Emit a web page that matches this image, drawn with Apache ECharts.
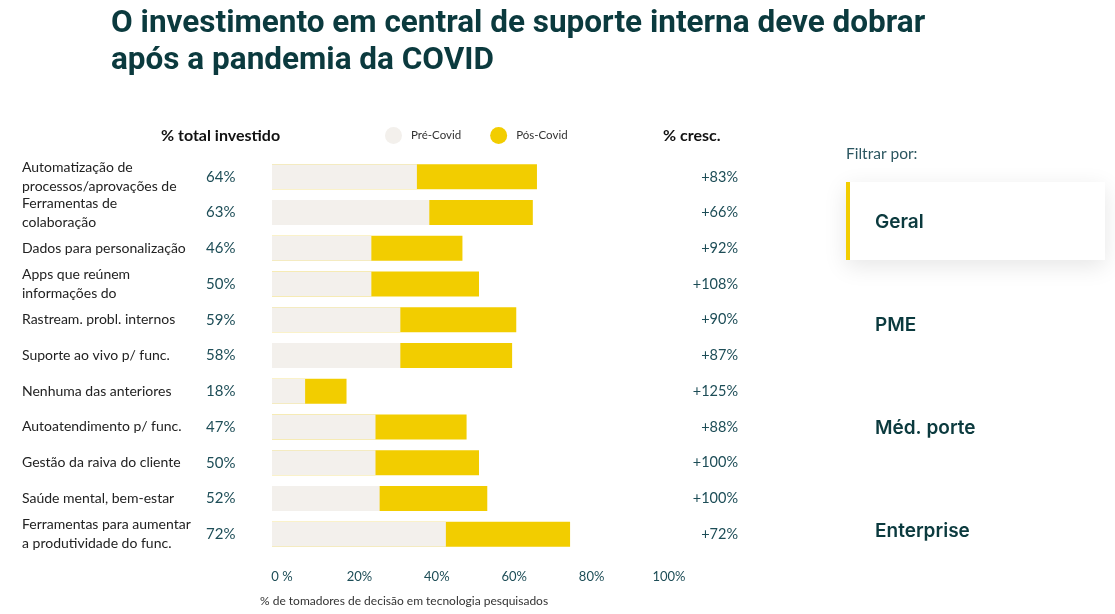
<!DOCTYPE html>
<html>
<head>
<meta charset="utf-8">
<script src="https://cdn.jsdelivr.net/npm/echarts@6/dist/echarts.min.js"></script>
<style>
html,body{margin:0;padding:0;background:#fff;}
#chart{width:1115px;height:614px;}
</style>
</head>
<body>
<div id="chart"></div>
<script>
const categories = [
  'Automatização de\nprocessos/aprovações de',
  'Ferramentas de\ncolaboração',
  'Dados para personalização',
  'Apps que reúnem\ninformações do',
  'Rastream. probl. internos',
  'Suporte ao vivo p/ func.',
  'Nenhuma das anteriores',
  'Autoatendimento p/ func.',
  'Gestão da raiva do cliente',
  'Saúde mental, bem-estar',
  'Ferramentas para aumentar\na produtividade do func.'
];
const preCovid = [35, 38, 24, 24, 31, 31, 8, 25, 25, 26, 42];
const posCovid = [64, 63, 46, 50, 59, 58, 18, 47, 50, 52, 72];
const growth = [83, 66, 92, 108, 90, 87, 125, 88, 100, 100, 72];
const xTickLabels = ['0 %', '20%', '40%', '60%', '80%', '100%'];
const filters = ['Geral', 'PME', 'Méd. porte', 'Enterprise'];

const TEAL = '#0B3A3E';
const VAL = '#1D4D57';
const GRAY = '#F3F0EC';
const YELLOW = '#F2CD00';
const BODY = 'Lato, "Open Sans", sans-serif';

const chart = echarts.init(document.getElementById('chart'), null, {renderer: 'canvas'});

const graphics = [
  {type: 'text', left: 161, top: 128, style: {text: '% total investido', font: 'bold 16px ' + BODY, fill: '#111'}},
  {type: 'text', left: 663, top: 128, style: {text: '% cresc.', font: 'bold 16px ' + BODY, fill: '#111'}},
  {type: 'text', left: 260, top: 595, style: {text: '% de tomadores de decisão em tecnologia pesquisados', font: '12px ' + BODY, fill: '#333'}},
  {type: 'text', left: 846, top: 146, style: {text: 'Filtrar por:', font: '15.5px ' + BODY, fill: '#2B5660'}},
  {type: 'rect', shape: {x: 846, y: 182, width: 259, height: 78}, style: {fill: '#fff', shadowBlur: 22, shadowColor: 'rgba(0,0,0,0.10)', shadowOffsetY: 6}, z: 1},
  {type: 'rect', shape: {x: 846, y: 182, width: 4, height: 78}, style: {fill: YELLOW}, z: 2}
];
filters.forEach((f, i) => {
  graphics.push({type: 'text', x: 875, y: 222 + i * 103, z: 3,
    style: {text: f, font: '600 19px Inter, Roboto, sans-serif', fill: TEAL, verticalAlign: 'middle'}});
});

const option = {
  backgroundColor: '#fff',
  animation: false,
  title: {
    text: 'O investimento em central de suporte interna deve dobrar\napós a pandemia da COVID',
    left: 111, top: 6, padding: 0,
    textStyle: {fontFamily: 'Roboto, sans-serif', fontWeight: 'bold', fontSize: 31.5, lineHeight: 37, color: TEAL}
  },
  legend: {
    data: ['Pré-Covid', 'Pós-Covid'],
    left: 385, top: 127, padding: 0,
    icon: 'circle', itemWidth: 17, itemHeight: 17, itemGap: 29,
    textStyle: {fontFamily: BODY, fontSize: 11.5, color: '#333', padding: [0, 0, 0, 4]}
  },
  grid: [
    {left: 272, top: 159, width: 414, height: 393},
    {left: 282, top: 159, width: 387, height: 393}
  ],
  xAxis: [
    {gridIndex: 0, type: 'value', min: 0, max: 100, show: false},
    {gridIndex: 1, type: 'value', min: 0, max: 100, interval: 20,
      axisLine: {show: false}, axisTick: {show: false}, splitLine: {show: false},
      axisLabel: {margin: 18, fontFamily: BODY, fontSize: 13, color: VAL,
        formatter: v => xTickLabels[Math.round(v / 20)]}}
  ],
  yAxis: [
    {gridIndex: 0, type: 'category', inverse: true, data: categories,
      axisLine: {show: false}, axisTick: {show: false}, splitLine: {show: false},
      axisLabel: {interval: 0, showMinLabel: true, showMaxLabel: true, align: 'left', margin: 250,
        fontFamily: BODY, fontSize: 14, lineHeight: 19, color: '#222'}},
    {gridIndex: 0, type: 'category', inverse: true, position: 'right', data: categories,
      axisLine: {show: false}, axisTick: {show: false}, splitLine: {show: false},
      axisLabel: {interval: 0, align: 'right', margin: 52, fontFamily: BODY, fontSize: 14.5, color: VAL,
        formatter: (v, i) => '+' + growth[i] + '%'}},
    {gridIndex: 1, type: 'category', show: false, data: categories}
  ],
  series: [
    {name: 'Pós-Covid', type: 'bar', xAxisIndex: 0, yAxisIndex: 0, data: posCovid,
      barWidth: 25, barGap: '-100%', itemStyle: {color: YELLOW},
      label: {show: true, position: 'left', distance: 66, align: 'left',
        formatter: '{c}%', fontFamily: BODY, fontSize: 15, color: VAL}},
    {name: 'Pré-Covid', type: 'bar', xAxisIndex: 0, yAxisIndex: 0, data: preCovid,
      barWidth: 25, barGap: '-100%', itemStyle: {color: GRAY}}
  ],
  graphic: graphics
};
chart.setOption(option);
</script>
</body>
</html>
